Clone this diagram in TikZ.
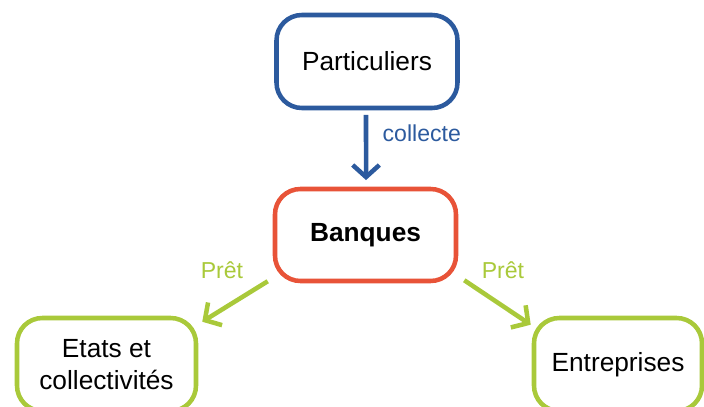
\documentclass[tikz,border=0pt]{standalone}
\usepackage{fontspec}
\setmainfont{Liberation Sans}
\usetikzlibrary{arrows.meta}
\definecolor{cblue}{RGB}{44,90,158}
\definecolor{cred}{RGB}{232,83,56}
\definecolor{cgreen}{RGB}{169,201,58}
\tikzset{
  box/.style={draw, line width=3.4pt, rounded corners=19pt, fill=white, align=center,
    font=\fontsize{19.7}{24}\selectfont, inner sep=0pt},
  lbl/.style={font=\fontsize{17.3}{20}\selectfont},
  conn/.style={line width=3.4pt, -{Straight Barb[length=9pt,width=20pt,line width=3.4pt]}},
}
\begin{document}
\begin{tikzpicture}[x=0.75pt,y=-0.75pt]
\useasboundingbox (0,0) rectangle (704,407);
\clip (0,0) rectangle (704,407);
\node[box, draw=cblue, minimum width=135.75pt, minimum height=69.75pt] (p) at (367,61.5) {Particuliers};
\node[box, draw=cred, minimum width=135.75pt, minimum height=69pt, font=\fontsize{19.7}{24}\selectfont\bfseries] (b) at (365.5,235) {Banques};
\node[box, draw=cgreen, minimum width=134.25pt, minimum height=69.75pt] (e) at (106.5,364.5) {Etats et\\collectivités};
\node[box, draw=cgreen, minimum width=126pt, minimum height=69.75pt] (n) at (618,364.5) {Entreprises};
\draw[conn, cblue] ([xshift=-0.75pt,yshift=-3.5pt]p.south) -- ([xshift=0.4pt,yshift=5pt]b.north);
\node[lbl, text=cblue, anchor=west] (lc) at (378,133) {collecte};
\draw[conn, cgreen] ([shift={(-5,-2)}]b.south west) -- ([shift={(4,6)}]e.north east);
\draw[conn, cgreen] ([shift={(6,-3)}]b.south east) -- ([shift={(-1,9)}]n.north west);
\node[lbl, text=cgreen] (l1) at (222,270) {Prêt};
\node[lbl, text=cgreen] (l2) at (503,270) {Prêt};
\end{tikzpicture}
\end{document}
